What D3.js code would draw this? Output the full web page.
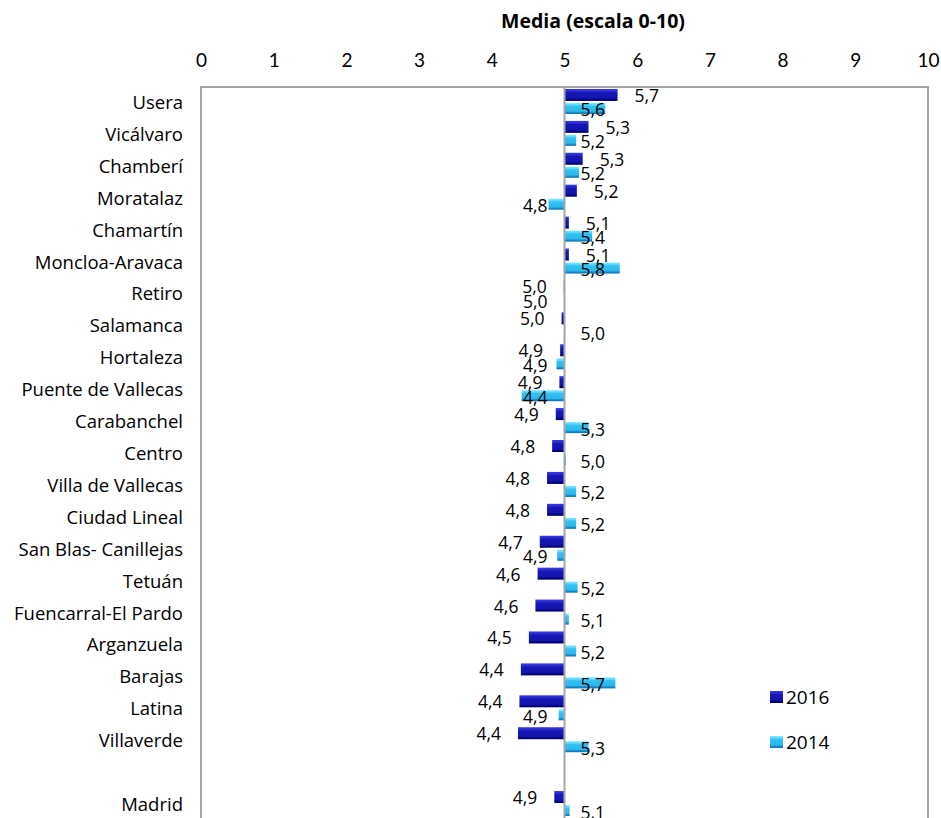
<!DOCTYPE html>
<html>
<head>
<meta charset="utf-8">
<script src="https://cdn.jsdelivr.net/npm/d3@7"></script>
<style>
  body { margin: 0; background: #fff; }
  svg text { font-family: "Open Sans", Lato, sans-serif; fill: #000; }
</style>
</head>
<body>
<svg id="chart" width="941" height="818"></svg>
<script>
// districts, top to bottom (Madrid is the total, drawn after a blank row)
const categories = [
  "Usera", "Vicálvaro", "Chamberí", "Moratalaz", "Chamartín", "Moncloa-Aravaca",
  "Retiro", "Salamanca", "Hortaleza", "Puente de Vallecas", "Carabanchel", "Centro",
  "Villa de Vallecas", "Ciudad Lineal", "San Blas- Canillejas", "Tetuán",
  "Fuencarral-El Pardo", "Arganzuela", "Barajas", "Latina", "Villaverde", "Madrid"
];
const values2016 = [
  5.73, 5.33, 5.25, 5.17, 5.06, 5.06,
  4.99, 4.96, 4.94, 4.93, 4.88, 4.83,
  4.76, 4.76, 4.66, 4.63,
  4.60, 4.51, 4.40, 4.38, 4.36, 4.86
];
const values2014 = [
  5.56, 5.16, 5.20, 4.78, 5.38, 5.76,
  4.995, 5.01, 4.89, 4.41, 5.33, 5.02,
  5.16, 5.16, 4.90, 5.18,
  5.06, 5.16, 5.70, 4.92, 5.33, 5.07
];
const seriesNames = ["2016", "2014"];
const xTicks = [0, 1, 2, 3, 4, 5, 6, 7, 8, 9, 10];
const baseValue = 5;

const svg = d3.select("#chart");
const plot = { left: 201, right: 928, top: 87, bottom: 821 };

// blank slot before the Madrid total
const rowDomain = categories.slice(0, 21).concat([" "], categories.slice(21));

var x = d3.scaleLinear().domain([0, 10]).range([plot.left, plot.right]);
var y = d3.scaleBand().domain(rowDomain).range([plot.top, plot.bottom]);

var fmt = function (v) {
  return d3.format(".1f")(v).replace(".", ",");
};

// gradients for the bevelled bars
const defs = svg.append("defs");
function addGrad(id, stops) {
  const g = defs.append("linearGradient").attr("id", id)
    .attr("x1", 0).attr("y1", 0).attr("x2", 0).attr("y2", 1);
  stops.forEach(function (s) {
    g.append("stop").attr("offset", s[0]).attr("stop-color", s[1]);
  });
}
addGrad("g2016", [[0, "#3a3ae0"], [0.2, "#2a2ad0"], [0.3, "#1616b4"], [0.75, "#1414ae"], [0.85, "#06068a"], [1, "#000060"]]);
addGrad("g2014", [[0, "#8ae8ff"], [0.2, "#55d4fb"], [0.3, "#30c2f2"], [0.75, "#2cb8ec"], [0.85, "#1590d0"], [1, "#0a6ea8"]]);

// title
svg.append("text")
  .attr("x", 593)
  .attr("y", 28)
  .attr("text-anchor", "middle")
  .style("font-weight", "bold")
  .style("font-size", "19.5px")
  .text("Media (escala 0-10)");

// top axis, labels only
const xAxis = svg.append("g")
  .attr("transform", "translate(0,67)")
  .call(d3.axisTop(x).tickValues(xTicks).tickSize(0).tickFormat(d3.format("d")));
xAxis.select(".domain").remove();
xAxis.selectAll("text")
  .attr("y", 0)
  .attr("dy", 0)
  .style("font-family", "Lato, sans-serif")
  .style("font-size", "19px")
  .attr("fill", "#000");

// plot frame
svg.append("rect")
  .attr("x", plot.left)
  .attr("y", plot.top)
  .attr("width", plot.right - plot.left)
  .attr("height", plot.bottom - plot.top)
  .attr("fill", "none")
  .attr("stroke", "#a6a6a6")
  .attr("stroke-width", 2);

// category labels
svg.append("g").selectAll("text")
  .data(categories)
  .enter()
  .append("text")
  .attr("x", 183)
  .attr("y", function (d) { return y(d) + y.bandwidth() / 2 + 6; })
  .attr("text-anchor", "end")
  .style("font-size", "18.5px")
  .text(function (d) { return d; });

const rows = categories.map(function (c, i) {
  return { name: c, v16: values2016[i], v14: values2014[i] };
});

function barX(v) { return Math.min(x(v), x(baseValue)); }
function barW(v) { return Math.abs(x(v) - x(baseValue)); }

const off16 = -14, h16 = 12, off14 = 0, h14 = 11;

// 2016 bars
svg.append("g").selectAll("rect")
  .data(rows)
  .enter()
  .append("rect")
  .attr("x", function (d) { return barX(d.v16); })
  .attr("y", function (d) { return y(d.name) + y.bandwidth() / 2 + off16; })
  .attr("width", function (d) { return barW(d.v16); })
  .attr("height", h16)
  .attr("fill", "url(#g2016)");

// 2014 bars
svg.append("g").selectAll("rect")
  .data(rows)
  .enter()
  .append("rect")
  .attr("x", function (d) { return barX(d.v14); })
  .attr("y", function (d) { return y(d.name) + y.bandwidth() / 2 + off14; })
  .attr("width", function (d) { return barW(d.v14); })
  .attr("height", h14)
  .attr("fill", "url(#g2014)");

// axis line at the base value
svg.append("line")
  .attr("x1", x(baseValue)).attr("x2", x(baseValue))
  .attr("y1", plot.top).attr("y2", plot.bottom)
  .attr("stroke", "#a6a6a6")
  .attr("stroke-width", 2);

// 2016 labels: outside end
svg.append("g").selectAll("text")
  .data(rows)
  .enter()
  .append("text")
  .attr("x", function (d) { return d.v16 >= baseValue ? x(d.v16) + 17 : x(d.v16) - 17; })
  .attr("y", function (d) { return y(d.name) + y.bandwidth() / 2 + off16 + h16 / 2 + 7; })
  .attr("text-anchor", function (d) { return d.v16 >= baseValue ? "start" : "end"; })
  .style("font-size", "17.5px")
  .text(function (d) { return fmt(d.v16); });

// 2014 labels: near the base
svg.append("g").selectAll("text")
  .data(rows)
  .enter()
  .append("text")
  .attr("x", function (d) { return d.v14 >= baseValue ? x(baseValue) + 16 : x(baseValue) - 17; })
  .attr("y", function (d) { return y(d.name) + y.bandwidth() / 2 + off14 + h14 / 2 + 8; })
  .attr("text-anchor", function (d) { return d.v14 >= baseValue ? "start" : "end"; })
  .style("font-size", "17.5px")
  .text(function (d) { return fmt(d.v14); });

// legend
const legend = svg.append("g").attr("transform", "translate(770,691)");
seriesNames.forEach(function (s, i) {
  legend.append("rect")
    .attr("x", 0)
    .attr("y", i * 45)
    .attr("width", 13)
    .attr("height", 12)
    .attr("fill", i === 0 ? "url(#g2016)" : "url(#g2014)");
  legend.append("text")
    .attr("x", 16)
    .attr("y", i * 45 + 13)
    .style("font-size", "19px")
    .text(s);
});
</script>
</body>
</html>
